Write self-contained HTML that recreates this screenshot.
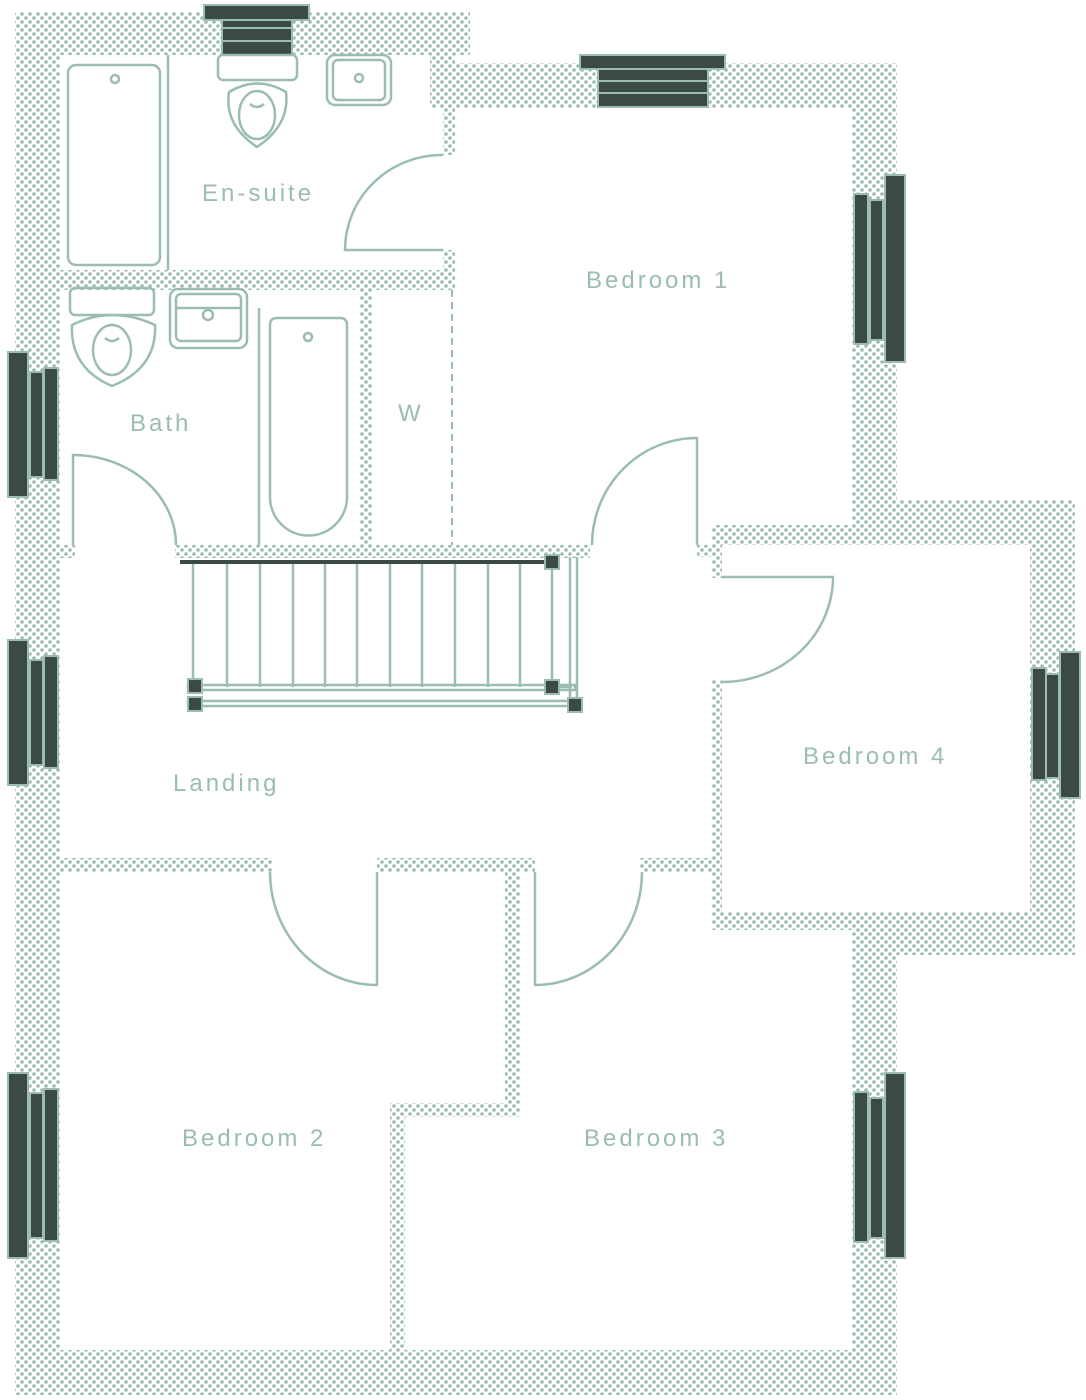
<!DOCTYPE html>
<html><head><meta charset="utf-8"><style>
html,body{margin:0;padding:0;background:#fff;}
svg{display:block}
text{font-family:"Liberation Sans",sans-serif;fill:#9bbcb0;font-size:24px;letter-spacing:3px}
</style></head><body>
<svg width="1086" height="1400" viewBox="0 0 1086 1400" xmlns="http://www.w3.org/2000/svg">
<defs>
<pattern id="d" width="8" height="8" patternUnits="userSpaceOnUse">
<rect width="8" height="8" fill="#fff"/>
<circle cx="2" cy="2" r="1.8" fill="#9bbcb0"/>
<circle cx="6" cy="6" r="1.8" fill="#9bbcb0"/>
</pattern>
</defs>
<g fill="url(#d)">
<rect x="15" y="12" width="455" height="43"/>
<rect x="15" y="12" width="45" height="1383"/>
<rect x="430" y="63" width="467" height="45"/>
<rect x="430" y="55" width="25" height="53"/>
<rect x="443" y="108" width="12" height="47"/>
<rect x="443" y="250" width="12" height="40"/>
<rect x="852" y="63" width="45" height="482"/>
<rect x="852" y="500" width="223" height="45"/>
<rect x="1030" y="500" width="45" height="455"/>
<rect x="852" y="912" width="223" height="43"/>
<rect x="712" y="912" width="185" height="18"/>
<rect x="852" y="912" width="45" height="483"/>
<rect x="15" y="1350" width="882" height="45"/>
<rect x="60" y="270" width="395" height="20"/>
<rect x="360" y="290" width="12" height="255"/>
<rect x="60" y="545" width="15" height="13"/>
<rect x="175" y="545" width="415" height="13"/>
<rect x="712" y="525" width="145" height="20"/>
<rect x="712" y="525" width="10" height="53"/>
<rect x="697" y="545" width="25" height="12"/>
<rect x="712" y="680" width="10" height="250"/>
<rect x="60" y="858" width="212" height="14"/>
<rect x="377" y="858" width="158" height="14"/>
<rect x="640" y="858" width="72" height="14"/>
<rect x="505" y="858" width="15" height="257"/>
<rect x="390" y="1103" width="130" height="14"/>
<rect x="390" y="1103" width="15" height="247"/>
</g>
<g fill="#3b4a45" stroke="#9bbcb0" stroke-width="2">
<rect x="204" y="5" width="105" height="15"/>
<rect x="222" y="20" width="70" height="10"/>
<rect x="222" y="28" width="70" height="13"/>
<rect x="222" y="41" width="70" height="14"/>
<rect x="580" y="55" width="145" height="14"/>
<rect x="598" y="69" width="110" height="12"/>
<rect x="598" y="81" width="110" height="12"/>
<rect x="598" y="93" width="110" height="14"/>
<rect x="8" y="352" width="20" height="145"/><rect x="30" y="372" width="13" height="105"/><rect x="44" y="368" width="14" height="112"/>
<rect x="8" y="640" width="20" height="145"/><rect x="30" y="660" width="13" height="105"/><rect x="44" y="656" width="14" height="112"/>
<rect x="8" y="1073" width="20" height="185"/><rect x="30" y="1093" width="13" height="145"/><rect x="44" y="1089" width="14" height="152"/>
<rect x="885" y="175" width="20" height="187"/><rect x="870" y="200" width="13" height="140"/><rect x="854" y="194" width="14" height="150"/>
<rect x="885" y="1073" width="20" height="185"/><rect x="870" y="1098" width="13" height="140"/><rect x="854" y="1092" width="14" height="150"/>
<rect x="1060" y="652" width="20" height="146"/><rect x="1046" y="674" width="13" height="104"/><rect x="1032" y="668" width="14" height="112"/>
</g>
<g fill="none" stroke="#9bbcb0" stroke-width="2.5">
<path d="M443,155 A97,95 0 0 0 345,250 L443,250"/>
<path d="M73,545 L73,455 A103,90 0 0 1 176,545"/>
<path d="M697,545 L697,438 A105,107 0 0 0 592,545"/>
<path d="M722,577 L833,577 A111,105 0 0 1 722,682"/>
<path d="M270,872 A107,113 0 0 0 377,985 L377,872"/>
<path d="M535,872 L535,985 A107,113 0 0 0 642,872"/>
<line x1="168" y1="55" x2="168" y2="270"/>
<rect x="68" y="65" width="92" height="200" rx="8"/>
<circle cx="115" cy="79" r="4"/>
<rect x="218" y="55" width="79" height="25" rx="5"/>
<path d="M229,92 Q257,75 286,92 Q290,125 257,147 Q224,125 229,92Z"/>
<ellipse cx="257" cy="115" rx="18" ry="24"/>
<path d="M250,104 Q257,110 264,104"/>
<rect x="327" y="55" width="64" height="50" rx="8"/>
<rect x="333" y="60" width="52" height="40" rx="5"/>
<circle cx="359" cy="78" r="4"/>
<rect x="70" y="288" width="84" height="27" rx="5"/>
<path d="M72,325 Q112,305 155,325 Q157,368 112,386 Q70,368 72,325Z"/>
<ellipse cx="112" cy="350" rx="19" ry="25"/>
<path d="M105,338 Q112,344 119,338"/>
<rect x="170" y="289" width="77" height="59" rx="8"/>
<rect x="176" y="294" width="65" height="47" rx="5"/>
<line x1="176" y1="308" x2="241" y2="308"/>
<circle cx="208" cy="315" r="5"/>
<line x1="259" y1="308" x2="259" y2="545"/>
<path d="M270,325 Q270,318 277,318 L340,318 Q347,318 347,325 L347,497 A38,38 0 0 1 270,497Z"/>
<circle cx="308" cy="337" r="4"/>
<line x1="452" y1="290" x2="452" y2="545" stroke-dasharray="7,5" stroke-width="2"/>
<line x1="193" y1="562" x2="193" y2="687"/><line x1="227" y1="562" x2="227" y2="687"/><line x1="260" y1="562" x2="260" y2="687"/><line x1="293" y1="562" x2="293" y2="687"/><line x1="325" y1="562" x2="325" y2="687"/><line x1="357" y1="562" x2="357" y2="687"/><line x1="390" y1="562" x2="390" y2="687"/><line x1="422" y1="562" x2="422" y2="687"/><line x1="455" y1="562" x2="455" y2="687"/><line x1="488" y1="562" x2="488" y2="687"/><line x1="520" y1="562" x2="520" y2="687"/><line x1="552" y1="562" x2="552" y2="687"/>
<rect x="188" y="685" width="387" height="5"/>
<rect x="188" y="701" width="387" height="5"/>
<line x1="570" y1="557" x2="570" y2="705"/>
<line x1="577" y1="557" x2="577" y2="705"/>
<line x1="552" y1="687" x2="572" y2="687"/>
</g>
<line x1="180" y1="562" x2="552" y2="562" stroke="#3b4a45" stroke-width="4"/>
<g fill="#3b4a45" stroke="#9bbcb0" stroke-width="2">
<rect x="545" y="555" width="14" height="14"/>
<rect x="545" y="680" width="14" height="14"/>
<rect x="188" y="679" width="14" height="14"/>
<rect x="188" y="697" width="14" height="14"/>
<rect x="568" y="698" width="14" height="14"/>
</g>
<text x="202" y="201">En-suite</text>
<text x="586" y="288">Bedroom 1</text>
<text x="130" y="431">Bath</text>
<text x="398" y="421">W</text>
<text x="803" y="764">Bedroom 4</text>
<text x="173" y="791">Landing</text>
<text x="182" y="1146">Bedroom 2</text>
<text x="584" y="1146">Bedroom 3</text>
</svg>
</body></html>
